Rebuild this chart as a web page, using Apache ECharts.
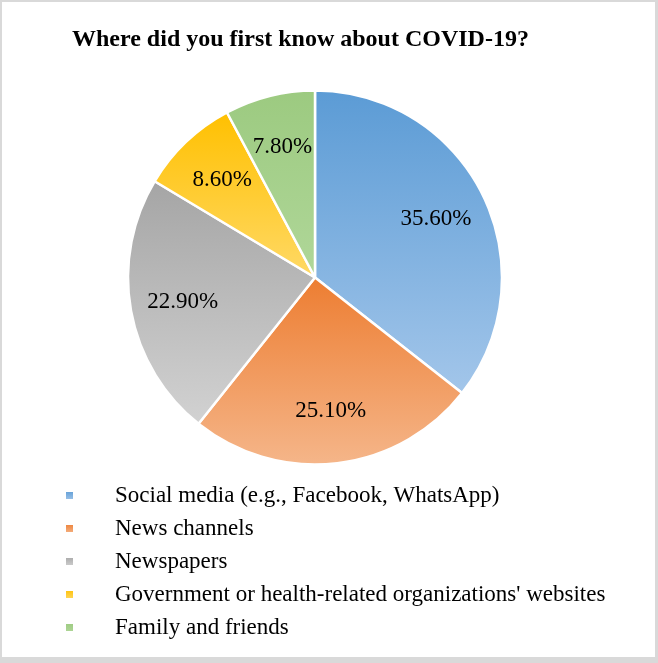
<!DOCTYPE html>
<html>
<head>
<meta charset="utf-8">
<script src="https://cdn.jsdelivr.net/npm/echarts@6/dist/echarts.min.js"></script>
<style>
html,body{margin:0;padding:0;background:#fff;}
#chart{width:658px;height:663px;}
</style>
</head>
<body>
<div id="chart"></div>
<script>
const titleText = 'Where did you first know about COVID-19?';
const categories = [
  'Social media (e.g., Facebook, WhatsApp)',
  'News channels',
  'Newspapers',
  "Government or health-related organizations' websites",
  'Family and friends'
];
const values = [35.6, 25.1, 22.9, 8.6, 7.8];
const topColors = ['#5B9BD5', '#ED7D31', '#A5A5A5', '#FFC000', '#9CCA80'];
const bottomColors = ['#A3C6EA', '#F5B68A', '#D2D2D2', '#FFD966', '#B0D799'];

const serif = '"Liberation Serif", "Times New Roman", serif';
const chart = echarts.init(document.getElementById('chart'), null, {renderer: 'canvas'});

const pieData = categories.map((name, i) => ({
  name: name,
  value: values[i],
  itemStyle: {
    color: new echarts.graphic.LinearGradient(0, 0, 0, 1, [
      {offset: 0, color: topColors[i]},
      {offset: 1, color: bottomColors[i]}
    ])
  }
}));
const labelData = categories.map((name, i) => ({name: name, value: values[i]}));

chart.setOption({
  backgroundColor: '#D9D9D9',
  animation: false,
  graphic: [{
    type: 'rect',
    z: -10,
    silent: true,
    shape: {x: 2, y: 2, width: 653, height: 655},
    style: {fill: '#ffffff'}
  }],
  title: {
    text: titleText,
    left: 72,
    top: 28,
    padding: 0,
    textStyle: {fontFamily: serif, fontWeight: 'bold', fontSize: 24, color: '#000'}
  },
  legend: {
    orient: 'vertical',
    left: 64,
    top: 484,
    padding: 0,
    itemWidth: 9,
    itemHeight: 9,
    itemGap: 10,
    icon: 'rect',
    data: categories,
    textStyle: {fontFamily: serif, fontSize: 23, color: '#000', lineHeight: 23, padding: [0, 0, 0, 36]}
  },
  series: [{
    type: 'pie',
    center: [315, 277.5],
    radius: [0, 187],
    startAngle: 90,
    clockwise: true,
    silent: true,
    label: {show: false},
    labelLine: {show: false},
    itemStyle: {borderColor: '#ffffff', borderWidth: 2.5},
    data: pieData
  }, {
    type: 'pie',
    center: [315, 277.5],
    radius: [76, 187],
    startAngle: 90,
    clockwise: true,
    silent: true,
    itemStyle: {color: 'rgba(0,0,0,0)', borderWidth: 0},
    label: {
      show: true,
      position: 'inside',
      formatter: p => p.value.toFixed(2) + '%',
      fontFamily: serif,
      fontSize: 23,
      color: '#000'
    },
    labelLine: {show: false},
    emphasis: {disabled: true},
    data: labelData
  }]
});
</script>
</body>
</html>
